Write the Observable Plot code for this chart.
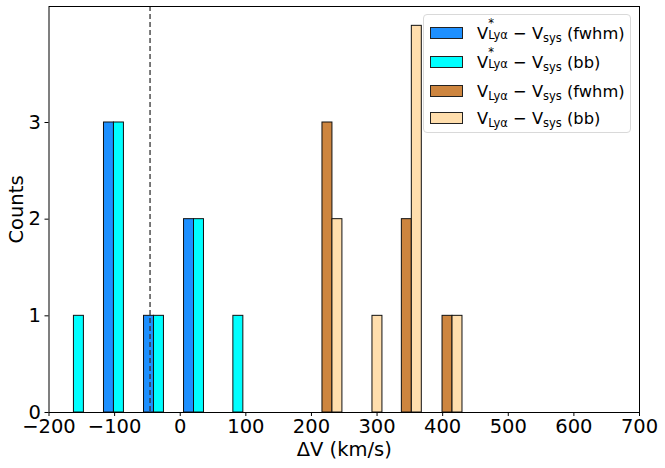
<!DOCTYPE html>
<html>
<head>
<meta charset="utf-8">
<script src="https://cdn.jsdelivr.net/npm/d3@7"></script>
<script src="https://cdn.jsdelivr.net/npm/@observablehq/plot@0.6"></script>
<style>
  html, body { margin: 0; padding: 0; background: #fff; }
  #wrap { position: relative; width: 665px; height: 468px; font-family: "DejaVu Sans", sans-serif; }
  #legend { position: absolute; left: 423px; top: 14px; width: 208px; height: 119px;
    border: 1px solid #d9d9d9; border-radius: 4px; background: rgba(255,255,255,0.85); box-sizing: border-box; }
  .row { position: absolute; left: 0; height: 28px; display: flex; align-items: center; }
  .sw { width: 33px; height: 12px; border: 1px solid #222; margin-left: 6px; margin-right: 14px; box-sizing: border-box; }
  .lbl { font-size: 16.3px; color: #000; white-space: nowrap; display: flex; align-items: center; }
  .stack { display: inline-flex; flex-direction: column; font-size: 11.5px; line-height: 10px; vertical-align: middle; }
  .stack .up { height: 8px; margin-top: -8px; }
  .stack .dn { margin-top: 4px; }
  .sub { font-size: 11.5px; position: relative; top: 5px; }
</style>
</head>
<body>
<div id="wrap"></div>
<script>
// bin centres (km/s) for the Lyα* pair and the Lyα pair
const centersStar = [-162, -101, -40, 21, 81];
const countsStarFwhm = [0, 3, 1, 2, 0];
const countsStarBB   = [1, 3, 1, 2, 1];
const centersLya = [232, 293, 353, 415];
const countsFwhm = [3, 0, 2, 1];
const countsBB   = [2, 1, 4, 1];
const systemicLine = [-46];
const seriesNames = ["star_fwhm", "star_bb", "fwhm", "bb"];
const seriesColors = ["#1E90FF", "#00FFFF", "#CD853F", "#FFDEAD"];
const xTicks = [-200, -100, 0, 100, 200, 300, 400, 500, 600, 700];
const yTicks = [0, 1, 2, 3];
const barW = 15.2;

function rows(centers, counts, name, side) {
  return centers.map((c, i) => ({
    x1: side === "left" ? c - barW : c,
    x2: side === "left" ? c : c + barW,
    count: counts[i], series: name
  })).filter(d => d.count > 0);
}
const bars = [
  ...rows(centersStar, countsStarFwhm, "star_fwhm", "left"),
  ...rows(centersStar, countsStarBB, "star_bb", "right"),
  ...rows(centersLya, countsFwhm, "fwhm", "left"),
  ...rows(centersLya, countsBB, "bb", "right")
];

const chart = Plot.plot({
  width: 665, height: 468,
  marginLeft: 48.5, marginRight: 26, marginTop: 6, marginBottom: 56,
  style: { fontFamily: "DejaVu Sans", fontSize: "19.5px", color: "#000", background: "transparent" },
  x: { domain: [-200, 700] },
  y: { domain: [0, 4.2] },
  color: { domain: seriesNames, range: seriesColors },
  marks: [
    Plot.rectY(bars, { x1: "x1", x2: "x2", y1: 0, y2: "count", fill: "series", stroke: "#111", strokeWidth: 1, insetLeft: 0, insetRight: 0 }),
    Plot.ruleX(systemicLine, { stroke: "#333", strokeWidth: 1.3, strokeDasharray: "5,3" }),
    Plot.frame({ stroke: "#000", strokeWidth: 1 }),
    Plot.axisX({ ticks: xTicks, tickSize: 4, tickPadding: 3, fontSize: 19.5, tickFormat: d3.format("d"), label: "ΔV (km/s)", labelAnchor: "center", labelArrow: "none", labelOffset: 43 }),
    Plot.axisY({ ticks: yTicks, tickSize: 4, tickPadding: 4, fontSize: 19.5, tickFormat: d3.format("d"), label: "Counts", labelAnchor: "center", labelArrow: "none", labelOffset: 40 })
  ]
});
document.getElementById("wrap").appendChild(chart);

// legend
const legendLabels = [
  { star: true, tag: "(fwhm)" },
  { star: true, tag: "(bb)" },
  { star: false, tag: "(fwhm)" },
  { star: false, tag: "(bb)" }
];
const leg = document.createElement("div");
leg.id = "legend";
const rowTops = [4, 33, 62, 89];
legendLabels.forEach((l, i) => {
  const r = document.createElement("div");
  r.className = "row";
  r.style.top = rowTops[i] + "px";
  const vpart = l.star
    ? `V<span class="stack"><span class="up">*</span><span class="dn">Lyα</span></span>`
    : `V<span class="sub">Lyα</span>`;
  r.innerHTML = `<div class="sw" style="background:${seriesColors[i]}"></div>` +
    `<div class="lbl">${vpart}&nbsp;−&nbsp;V<span class="sub">sys</span>&nbsp;${l.tag}</div>`;
  leg.appendChild(r);
});
document.getElementById("wrap").appendChild(leg);
</script>
</body>
</html>
